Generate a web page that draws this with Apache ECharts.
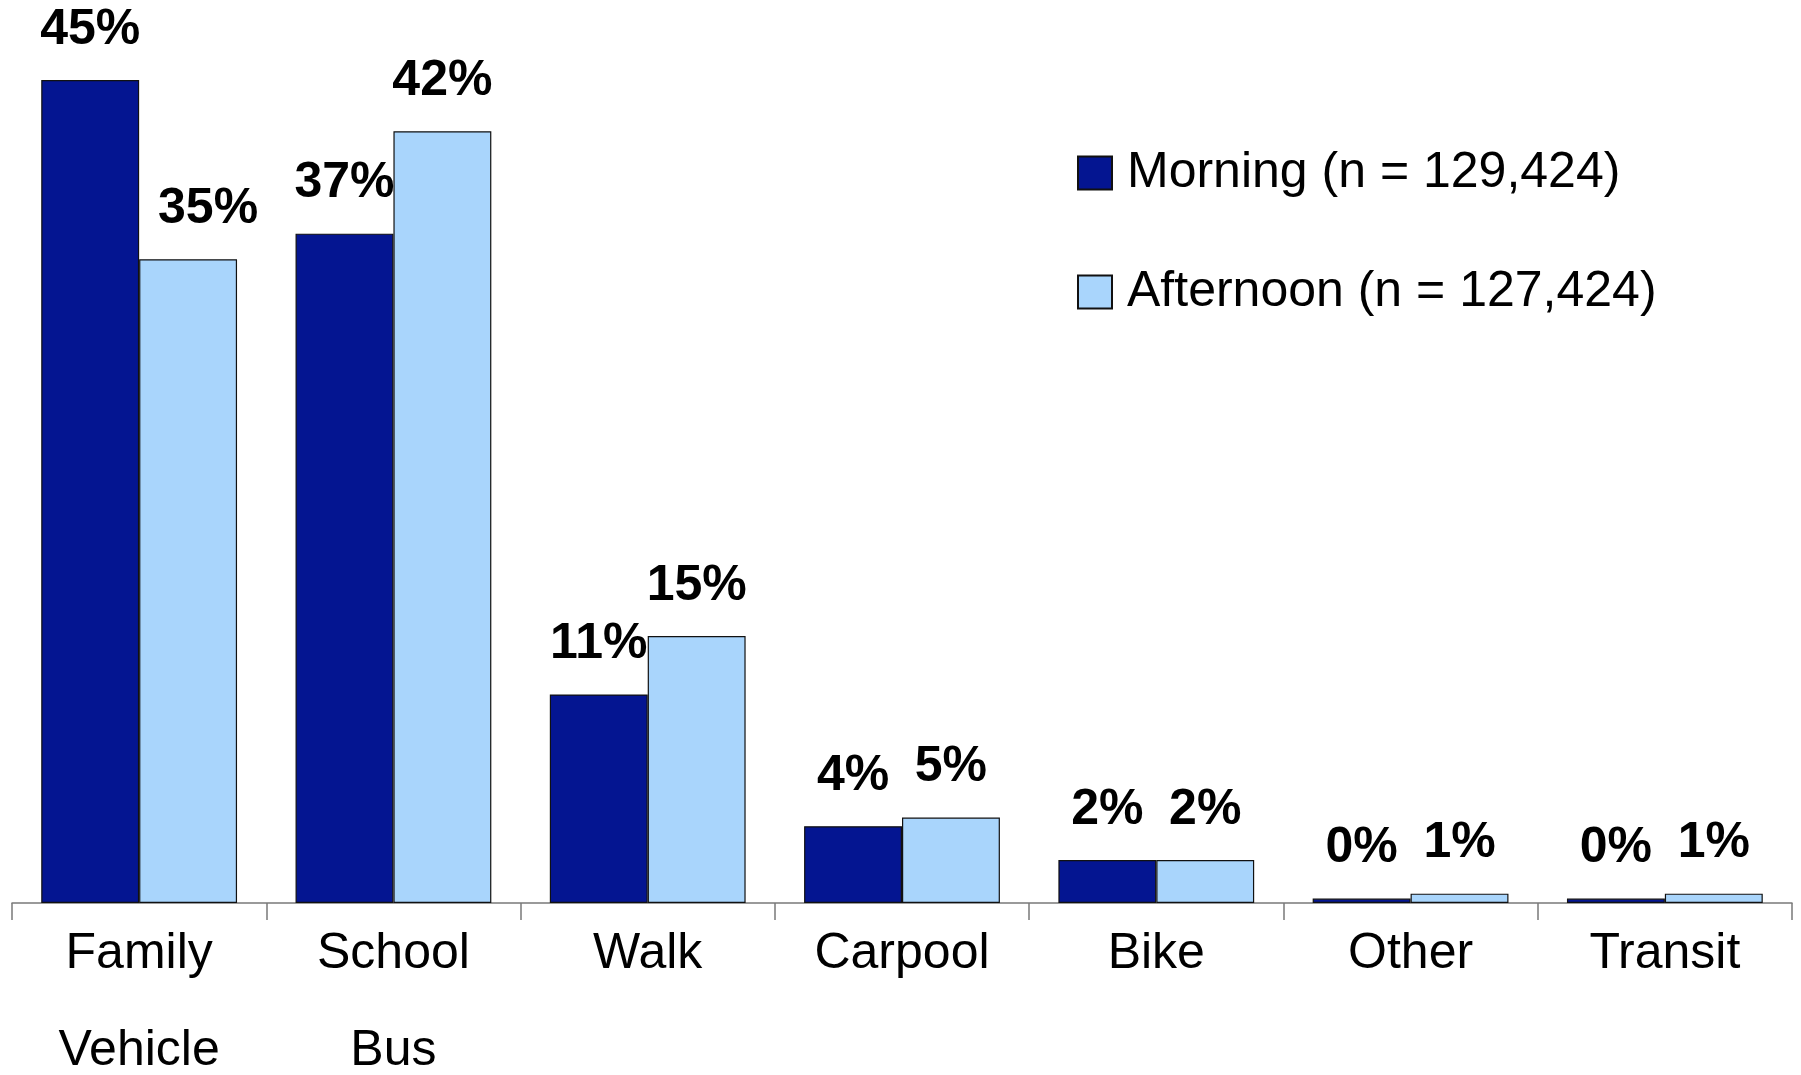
<!DOCTYPE html>
<html>
<head>
<meta charset="utf-8">
<script src="https://cdn.jsdelivr.net/npm/echarts@6/dist/echarts.min.js"></script>
<style>
html,body{margin:0;padding:0;background:#fff;}
#chart{width:1801px;height:1075px;}
</style>
</head>
<body>
<div id="chart"></div>
<script>
const categories = ['Family\nVehicle', 'School\nBus', 'Walk', 'Carpool', 'Bike', 'Other', 'Transit'];
const seriesNames = ['Morning (n = 129,424)', 'Afternoon (n = 127,424)'];
const morningValues = [45, 36.6, 11.4, 4.2, 2.35, 0.24, 0.24];
const afternoonValues = [35.2, 42.2, 14.6, 4.67, 2.35, 0.51, 0.51];
const morningLabels = ['45%', '37%', '11%', '4%', '2%', '0%', '0%'];
const afternoonLabels = ['35%', '42%', '15%', '5%', '2%', '1%', '1%'];

const FONT = '"Liberation Sans", Arial, sans-serif';

function buildData(values, labels, offsets) {
  return values.map((v, i) => {
    const item = { value: v, labelText: labels[i] };
    if (offsets && offsets[i]) item.label = { offset: offsets[i] };
    return item;
  });
}

const labelStyle = {
  show: true,
  position: 'top',
  distance: 25,
  fontFamily: FONT,
  fontWeight: 'bold',
  fontSize: 50,
  color: '#000',
  formatter: p => p.data.labelText
};

const chart = echarts.init(document.getElementById('chart'), null, { renderer: 'canvas' });
chart.setOption({
  backgroundColor: '#fff',
  animation: false,
  grid: { left: 12, right: 9, top: 80, bottom: 172, containLabel: false, outerBoundsMode: 'none' },
  legend: {
    orient: 'vertical',
    left: 1072,
    top: 143,
    itemWidth: 34,
    itemHeight: 33,
    itemGap: 69,
    icon: 'rect',
    textStyle: { fontFamily: FONT, fontSize: 50, color: '#000', lineHeight: 50, padding: [0, 0, 0, 10] },
    data: seriesNames
  },
  xAxis: {
    type: 'category',
    data: categories,
    axisLine: { show: true, lineStyle: { color: '#7a7a7a', width: 1.5 } },
    axisTick: { show: true, length: 17, lineStyle: { color: '#7a7a7a', width: 1.5 } },
    axisLabel: { fontFamily: FONT, fontSize: 50, color: '#000', lineHeight: 97, margin: 3, interval: 0 }
  },
  yAxis: {
    type: 'value',
    min: 0,
    max: 45,
    show: false,
    splitLine: { show: false }
  },
  series: [
    {
      name: seriesNames[0],
      type: 'bar',
      data: buildData(morningValues, morningLabels),
      barGap: '0%',
      barCategoryGap: '23%',
      itemStyle: { color: '#041591', borderColor: '#111', borderWidth: 1.2 },
      label: labelStyle
    },
    {
      name: seriesNames[1],
      type: 'bar',
      data: buildData(afternoonValues, afternoonLabels, { 0: [20, 0] }),
      barGap: '0%',
      barCategoryGap: '23%',
      itemStyle: { color: '#A9D5FC', borderColor: '#111', borderWidth: 1.2 },
      label: labelStyle
    }
  ]
});
</script>
</body>
</html>
